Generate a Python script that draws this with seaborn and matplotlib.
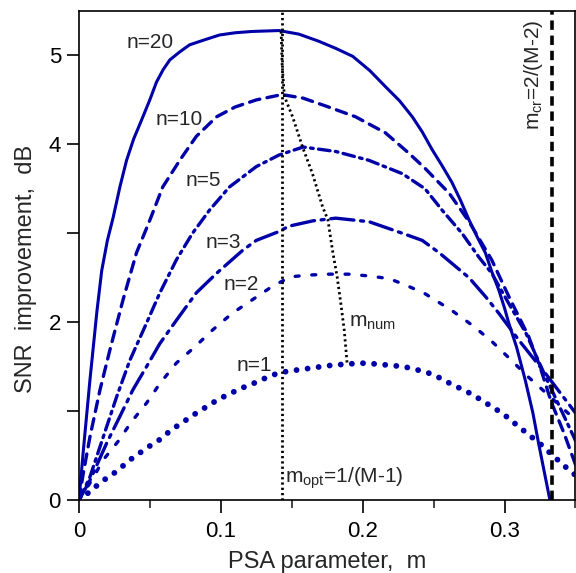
import numpy as np
import pandas as pd
import matplotlib
matplotlib.use("Agg")
import matplotlib.pyplot as plt
import seaborn as sns

# curvas SNR vs m
n20_x = [0, 0.003, 0.0077, 0.0126, 0.016, 0.020, 0.0241, 0.0288, 0.0335, 0.0385, 0.044, 0.0499, 0.0546,
         0.0593, 0.064, 0.071, 0.078, 0.0874, 0.099, 0.11, 0.122, 0.141, 0.155, 0.169, 0.181, 0.193,
         0.205, 0.216, 0.226, 0.235, 0.242, 0.249, 0.256, 0.263, 0.269, 0.275, 0.281, 0.2865, 0.291,
         0.296, 0.30, 0.303, 0.3085, 0.3146, 0.32, 0.324, 0.328, 0.332]
n20_y = [0, 0.55, 1.35, 2.12, 2.58, 2.92, 3.18, 3.52, 3.82, 4.06, 4.27, 4.50, 4.70,
         4.84, 4.95, 5.04, 5.12, 5.17, 5.23, 5.255, 5.27, 5.28, 5.24, 5.16, 5.08, 4.99,
         4.83, 4.65, 4.49, 4.31, 4.14, 3.94, 3.76, 3.57, 3.37, 3.15, 2.95, 2.78, 2.57,
         2.36, 2.16, 1.99, 1.72, 1.35, 0.98, 0.64, 0.32, 0.0]

n10_x = [0, 0.003, 0.0077, 0.0148, 0.0218, 0.031, 0.0405, 0.05, 0.059, 0.071, 0.0827, 0.097, 0.11,
         0.125, 0.143, 0.158, 0.176, 0.195, 0.216, 0.2326, 0.244, 0.261, 0.275, 0.291, 0.303, 0.317,
         0.325, 0.333, 0.342, 0.35]
n10_y = [0, 0.30, 0.71, 1.24, 1.69, 2.25, 2.78, 3.15, 3.52, 3.82, 4.09, 4.31, 4.42,
         4.50, 4.56, 4.52, 4.42, 4.31, 4.13, 3.90, 3.73, 3.45, 3.13, 2.70, 2.29, 1.84,
         1.50, 1.10, 0.75, 0.40]

n5_x = [0, 0.0077, 0.0171, 0.0265, 0.0358, 0.0476, 0.057, 0.0686, 0.080, 0.092, 0.106, 0.125, 0.141,
        0.158, 0.181, 0.2045, 0.228, 0.244, 0.256, 0.27, 0.282, 0.291, 0.303, 0.315, 0.33, 0.35]
n5_y = [0, 0.26, 0.71, 1.16, 1.57, 1.99, 2.33, 2.70, 3.0, 3.26, 3.52, 3.75, 3.88,
        3.97, 3.92, 3.82, 3.67, 3.50, 3.26, 3.0, 2.73, 2.55, 2.21, 1.88, 1.35, 0.67]

n3_x = [0, 0.0077, 0.0195, 0.0288, 0.038, 0.0476, 0.057, 0.0686, 0.0827, 0.097, 0.1155, 0.125, 0.141,
        0.148, 0.165, 0.181, 0.2045, 0.228, 0.242, 0.254, 0.266, 0.275, 0.287, 0.296, 0.31, 0.33, 0.35]
n3_y = [0, 0.22, 0.64, 0.94, 1.24, 1.50, 1.76, 2.02, 2.33, 2.55, 2.81, 2.92, 3.02,
        3.08, 3.14, 3.17, 3.13, 3.0, 2.92, 2.78, 2.62, 2.50, 2.28, 2.10, 1.80, 1.40, 0.98]

n2_x = [0, 0.0089, 0.017, 0.0276, 0.037, 0.0476, 0.057, 0.0686, 0.0815, 0.094, 0.108, 0.122, 0.136,
        0.149, 0.162, 0.176, 0.19, 0.2045, 0.2186, 0.230, 0.244, 0.263, 0.276, 0.29, 0.303, 0.317,
        0.333, 0.35]
n2_y = [0, 0.22, 0.45, 0.66, 0.88, 1.09, 1.31, 1.54, 1.72, 1.91, 2.10, 2.25, 2.40,
        2.51, 2.53, 2.54, 2.54, 2.52, 2.49, 2.42, 2.32, 2.13, 1.98, 1.80, 1.60, 1.38,
        1.15, 0.90]

n1_x = [0, 0.0089, 0.016, 0.023, 0.030, 0.0358, 0.0429, 0.051, 0.058, 0.065, 0.072, 0.079, 0.085,
        0.092, 0.099, 0.106, 0.113, 0.120, 0.127, 0.134, 0.141, 0.148, 0.162, 0.175, 0.189, 0.202,
        0.216, 0.229, 0.242, 0.250, 0.257, 0.264, 0.271, 0.278, 0.285, 0.292, 0.299, 0.305, 0.312,
        0.319, 0.326, 0.332, 0.339, 0.346, 0.35]
n1_y = [0, 0.11, 0.21, 0.28, 0.37, 0.45, 0.53, 0.62, 0.69, 0.79, 0.86, 0.94, 1.00,
        1.07, 1.14, 1.19, 1.25, 1.29, 1.34, 1.39, 1.43, 1.45, 1.48, 1.51, 1.53, 1.54,
        1.52, 1.50, 1.45, 1.41, 1.35, 1.29, 1.24, 1.18, 1.11, 1.04, 0.97, 0.89, 0.80,
        0.71, 0.62, 0.53, 0.43, 0.33, 0.28]

# curva de maximos m_num
mnum_x = [0.1425, 0.1432, 0.1448, 0.1506, 0.1576, 0.1646, 0.1717, 0.1755, 0.1787, 0.182, 0.1846, 0.187, 0.189]
mnum_y = [5.27, 4.90, 4.54, 4.31, 3.97, 3.67, 3.30, 3.15, 2.81, 2.51, 2.21, 1.91, 1.54]

M = 8
m_opt = 1 / (M - 1)
m_cr = 2 / (M - 2)

labels = ["n=20", "n=10", "n=5", "n=3", "n=2", "n=1"]
label_pos = [(0.0502, 5.15), (0.0703, 4.28), (0.0875, 3.59), (0.1015, 2.90), (0.1142, 2.42), (0.1233, 1.51)]

xticks = [0, 0.1, 0.2, 0.3]
xtick_labels = ["0", "0.1", "0.2", "0.3"]
yticks = [0, 1, 2, 3, 4, 5]
ytick_labels = ["0", "", "2", "", "4", "5"]

sns.set_style("ticks")
plt.rcParams["font.family"] = ["Liberation Sans", "DejaVu Sans"]
plt.rcParams["mathtext.fontset"] = "custom"
plt.rcParams["mathtext.rm"] = "Liberation Sans"
plt.rcParams["mathtext.it"] = "Liberation Sans"

azul = "#0000a8"

fig = plt.figure(figsize=(5.76, 5.73), dpi=100)
ax = fig.add_axes([0.1372, 0.1274, 0.8618, 0.8534])

curvas = [
    (n20_x, n20_y, "-", 2.2),
    (n10_x, n10_y, (0, (3.2, 2.2)), 2.4),
    (n5_x, n5_y, (0, (3.5, 1.6, 0.8, 1.6)), 2.4),
    (n3_x, n3_y, (0, (7, 2, 0.9, 2)), 2.4),
    (n2_x, n2_y, (0, (1.2, 3.8)), 2.4),
    (n1_x, n1_y, (0, (0.01, 1.9)), 4.2),
]
for xs, ys, ls, lw in curvas:
    sns.lineplot(x=xs, y=ys, ax=ax, color=azul, lw=lw, linestyle=ls,
                 sort=False, estimator=None, dash_capstyle="round")

sns.lineplot(x=mnum_x, y=mnum_y, ax=ax, color="black", lw=2.0, linestyle=(0, (0.8, 1.1)),
             sort=False, estimator=None)
ax.axvline(m_opt, color="black", lw=2.0, linestyle=(0, (0.8, 1.1)))
ax.axvline(m_cr, color="black", lw=2.6, linestyle=(0, (2.6, 1.6)))

for txt, (tx, ty) in zip(labels, label_pos):
    ax.text(tx, ty, txt, fontsize=15, ha="center", va="center")

ax.text(0.1905, 1.95, r"$\mathregular{m_{num}}$", fontsize=15, ha="left", va="baseline")
ax.text(0.1455, 0.19, r"$\mathregular{m_{opt}}$=1/(M-1)", fontsize=15, ha="left", va="baseline")
ax.text(0.3205, 4.78, r"$\mathregular{m_{cr}}$=2/(M-2)", fontsize=15, ha="center", va="center",
        rotation=90)

ax.set_xlim(0, 0.35)
ax.set_ylim(0, 5.5)
ax.set_xticks(xticks)
ax.set_xticklabels(xtick_labels)
ax.set_xticks([0.05, 0.15, 0.25, 0.35], minor=True)
ax.set_yticks(yticks)
ax.set_yticklabels(ytick_labels)

ax.tick_params(which="major", direction="out", length=9, width=1.2, labelsize=16, colors="black")
ax.tick_params(which="minor", direction="out", length=6, width=1.2)
ax.tick_params(axis="x", pad=6)
ax.tick_params(axis="y", pad=4)
for s in ax.spines.values():
    s.set_visible(True)
    s.set_linewidth(1.2)
    s.set_color("black")

ax.set_xlabel("PSA parameter,  m", fontsize=17)
ax.set_ylabel("SNR  improvement,  dB", fontsize=17)
ax.xaxis.set_label_coords(0.5, -0.105)
ax.yaxis.set_label_coords(-0.085, 0.472)

fig.savefig("out.png", dpi=100)
